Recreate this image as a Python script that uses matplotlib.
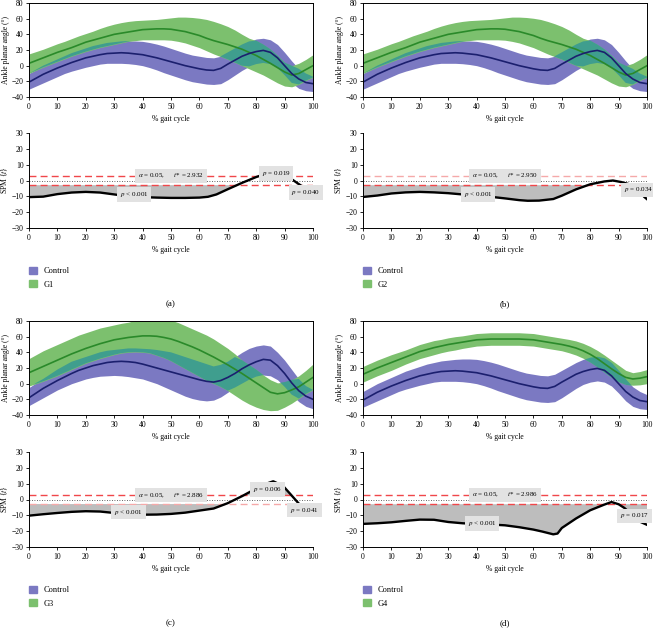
import numpy as np
import matplotlib.pyplot as plt
from matplotlib.patches import Patch

plt.rcParams['font.family'] = ['Liberation Serif', 'DejaVu Serif']
plt.rcParams['mathtext.fontset'] = 'stix'
plt.rcParams['font.size'] = 5.5

# % gait cycle grid for the angle curves (every 2.5 %)
pct = [0, 2.5, 5, 7.5, 10, 12.5, 15, 17.5, 20, 22.5, 25, 27.5, 30, 32.5, 35, 37.5, 40, 42.5, 45, 47.5,
       50, 52.5, 55, 57.5, 60, 62.5, 65, 67.5, 70, 72.5, 75, 77.5, 80, 82.5, 85, 87.5, 90, 92.5, 95, 97.5, 100]

# control group, panels a, b, d (mean and band edges)
ctrl_mean = [-21, -16, -11, -7, -3, 0.5, 4, 7, 10, 12, 14, 15.5, 16, 16.5, 16, 15, 14, 12, 10, 7.5,
             5, 2.5, 0, -2, -4, -5.5, -6, -3.5, 2, 7, 12, 15.5, 18, 19.5, 17, 10, 0, -10, -17, -21.5, -23]
ctrl_hi = [-10, -5, 0, 4, 8, 12, 16, 19, 22, 25, 27, 29, 30, 31, 31.5, 31.5, 31, 29.5, 27.5, 25,
           22, 19, 16, 13.5, 12, 10.5, 10, 12, 17, 22, 27, 31, 34, 35, 33, 27, 17, 6, -4, -10, -14]
ctrl_lo = [-30, -26, -22, -18, -14, -10, -7, -4.5, -2, 0, 2, 3, 3, 3, 2.5, 1.5, 0, -2.5, -5.5, -9,
           -12, -15, -18, -20.5, -22, -23.5, -24, -23, -18, -12, -6, -1, 2, 3.5, 2, -3, -12, -22, -29, -32, -33]

# G1 (panel b's G2 curves are the same as G1 in the figure)
g1_mean = [3, 6.5, 10, 13.5, 17, 20, 23, 26.5, 30, 32.5, 35, 37.5, 40, 41.5, 43, 44.5, 46, 46.5, 47, 47,
           46.5, 45, 43.5, 41, 38.5, 35, 32, 29.5, 27, 24, 21, 17, 13, 8, 3, -2.5, -8, -12, -10, -5, 0]
g1_hi = [15, 18, 21, 24.5, 28, 31, 34.5, 38, 41, 44, 47.5, 50.5, 53, 55, 56.5, 57.5, 58, 58.5, 59, 60,
         61, 62, 62, 61.5, 60.5, 59, 56.5, 53.5, 50, 45.5, 40, 35, 32, 27, 21, 13, 4, 0, 3, 8, 14]
g1_lo = [-10, -6, -2, 1.5, 5, 8.5, 12, 15, 18, 20.5, 23, 25, 27, 29, 31, 32, 33, 33, 33, 33,
         32.5, 31, 29, 26, 23, 19, 15, 11.5, 8, 4, 0, -4, -8, -12, -17, -22, -26, -27, -24, -19, -15]

# control group, panel c
ctrl3_mean = [-18, -12, -6, -1, 4, 8.5, 13, 17, 20, 23, 25, 27, 28, 28.5, 28, 27, 25, 22.5, 20, 17.5,
              15, 12.5, 10, 7.5, 5, 3, 2, 4, 8, 13, 19, 24, 28, 31, 30, 23, 13, 1, -9, -16, -20]
ctrl3_hi = [-5, 1, 6, 12, 18, 23, 28, 31, 34, 37, 40, 42, 43, 44, 45, 45, 44.5, 44, 43, 41.5,
            40, 37, 34, 31, 28, 25, 22, 24, 28, 34, 40, 45, 48, 49.5, 48, 40, 30, 18, 6, -3, -8]
ctrl3_lo = [-28, -23, -18, -13, -8, -4, 0, 3, 6, 8, 9.5, 10, 10.5, 10, 9, 7.5, 6, 3, 0, -4,
            -8, -12, -16, -19, -21, -22, -21, -17, -11, -5, 0, 5, 9, 11, 10, 5, -4, -14, -23, -29, -32]

g3_mean = [14, 18, 22, 26, 30, 34, 38, 41.5, 45, 48, 51, 53.5, 56, 57.5, 59, 60, 61, 61, 60.5, 59,
           57, 54, 50.5, 47, 43, 38.5, 34, 29, 24, 18.5, 13, 7, 1, -5, -11, -13, -11.5, -8, -4, 2, 8]
g3_hi = [32, 37, 42, 46, 50, 54, 58, 62, 65, 68, 71, 73, 75, 77, 78.5, 81, 83, 84, 84, 83,
         81, 78, 74, 70, 66, 62, 57, 51, 45, 38, 30, 24, 18, 11, 5, 1, 2, 5, 10, 17, 25]
g3_lo = [-3, 0, 3, 6.5, 10, 14, 18, 22, 26, 29, 32, 34.5, 37, 39, 40, 40.5, 40, 39, 36, 33,
         29, 24, 19, 14, 9, 4, 0, -4, -9, -15, -21, -26, -30, -33, -34.5, -34, -30, -25, -19, -13, -8]

g4_mean = [12, 16, 20, 23.5, 27, 30.5, 34, 37.5, 41, 43.5, 46, 48, 50, 51.5, 53, 54.5, 56, 56.5, 57, 57,
           57, 57, 57, 56.5, 56, 54.5, 53, 51.5, 50, 48, 45.5, 42, 37.5, 32, 25.5, 19, 13, 8, 6, 7, 9]
g4_sd = [10, 10, 10, 10, 10, 9.5, 9, 9, 9, 9, 9, 8.5, 8.5, 8.5, 8, 8, 8, 8, 8, 8,
         8, 8, 8, 8, 8, 8, 8, 8, 8, 8.5, 9, 9.5, 10, 10.5, 11, 11, 10.5, 9, 8, 8.5, 9]

# SPM{t} curves
spm1_x = [0, 5, 10, 15, 20, 25, 30, 35, 40, 45, 50, 55, 60, 63, 66, 70, 75, 80, 83, 86, 90, 93, 96, 100]
spm1_t = [-10.5, -10.2, -8.6, -7.6, -7.2, -7.6, -8.8, -10, -10.5, -10.8, -11, -11, -10.8, -10.3, -8.8,
          -5.5, -1.5, 2.2, 4, 4.5, 3.5, 0.2, -3.5, -7]
spm2_x = [0, 5, 10, 15, 20, 25, 30, 35, 40, 45, 50, 55, 58, 62, 67, 70, 75, 80, 85, 88, 91, 94, 97, 99, 100]
spm2_t = [-10.4, -9.5, -8.2, -7.5, -7.2, -7.5, -8, -8.8, -9.3, -10.3, -11.3, -12.4, -12.8, -12.7, -11.7,
          -9.6, -5.6, -2.4, -0.6, 0, -1, -2.5, -6.5, -10.3, -11.8]
spm3_x = [0, 5, 10, 15, 20, 25, 30, 35, 40, 45, 50, 55, 60, 65, 70, 75, 78, 82, 86, 89.5, 92, 95, 100]
spm3_t = [-10.2, -9.3, -8.5, -7.8, -7.4, -7.6, -8.5, -9.3, -9.6, -9.5, -9.1, -8.3, -7, -5.7, -2.3, 2.1,
          5, 9, 11.5, 8.5, 3.5, -2.6, -8]
spm4_x = [0, 5, 10, 15, 20, 25, 30, 35, 40, 45, 50, 55, 60, 63, 65, 67, 68.5, 70, 75, 80, 85, 87.5, 90,
          92, 95, 97.5, 100]
spm4_t = [-15.4, -15, -14.4, -13.5, -12.7, -12.8, -14.2, -15, -15.5, -15.8, -16.3, -17.5, -19, -20.2,
          -21.1, -22, -21.5, -18, -12, -6.8, -3.2, -1.6, -3, -5.3, -10, -14, -16]

thresholds = [2.932, 2.950, 2.886, 2.986]
group_names = ['G1', 'G2', 'G3', 'G4']
panel_tags = ['(a)', '(b)', '(c)', '(d)']

# (x, y, text) of the grey p-value boxes
p_labels = [
    [(37, -9, '$p$ < 0.001'), (87, 4.5, '$p$ = 0.019'), (97.5, -7.5, '$p$ = 0.040')],
    [(40.5, -9, '$p$ < 0.001'), (97, -6, '$p$ = 0.034')],
    [(35, -8, '$p$ < 0.001'), (84, 6.4, '$p$ = 0.006'), (97, -6.7, '$p$ = 0.041')],
    [(42, -15.3, '$p$ < 0.001'), (95.5, -10.4, '$p$ = 0.017')],
]

blue_band = '#7b79c2'
green_band = '#7cc06e'
overlap = '#3f9e8e'
blue_line = '#1b1f6e'
green_line = '#2a8a2a'
red = '#f0474a'
pale_red = '#f5a9a9'
# colour of the upper / lower threshold line in each panel
thr_colors = [(red, red), (pale_red, red), (red, pale_red), (red, red)]

x = np.array(pct)
g4m, g4s = np.array(g4_mean), np.array(g4_sd)
ctrl_sets = [(ctrl_mean, ctrl_lo, ctrl_hi), (ctrl_mean, ctrl_lo, ctrl_hi),
             (ctrl3_mean, ctrl3_lo, ctrl3_hi), (ctrl_mean, ctrl_lo, ctrl_hi)]
grp_sets = [(g1_mean, g1_lo, g1_hi), (g1_mean, g1_lo, g1_hi),
            (g3_mean, g3_lo, g3_hi), (g4_mean, g4m - g4s, g4m + g4s)]
spm_sets = [(spm1_x, spm1_t), (spm2_x, spm2_t), (spm3_x, spm3_t), (spm4_x, spm4_t)]

fig = plt.figure(figsize=(6.53, 6.29), dpi=100)

W, H = 653, 629
def axes_px(left, top, right, bottom):
    return fig.add_axes([left / W, 1 - bottom / H, (right - left) / W, (bottom - top) / H])

lefts = [29, 363, 29, 363]
rights = [313, 647, 313, 647]
tops_angle = [3, 3, 321, 321]
tops_spm = [133, 133, 452, 452]

box = dict(boxstyle='square,pad=0.4', facecolor='#e2e2e2', edgecolor='none')

for i in range(4):
    L, R = lefts[i], rights[i]

    # joint angle panel
    ax = axes_px(L, tops_angle[i], R, tops_angle[i] + 94)
    cm, c_lo, c_hi = [np.array(a, dtype=float) for a in ctrl_sets[i]]
    gm, g_lo, g_hi = [np.array(a, dtype=float) for a in grp_sets[i]]
    ax.fill_between(x, c_lo, c_hi, color=blue_band, lw=0)
    ax.fill_between(x, g_lo, g_hi, color=green_band, lw=0)
    lo = np.maximum(c_lo, g_lo)
    hi = np.minimum(c_hi, g_hi)
    ax.fill_between(x, lo, hi, where=hi > lo, interpolate=True, color=overlap, lw=0)
    ax.plot(x, gm, color=green_line, lw=1.2)
    ax.plot(x, cm, color=blue_line, lw=1.2)
    ax.set_xlim(0, 100)
    ax.set_ylim(-40, 80)
    ax.set_xticks(range(0, 101, 10))
    ax.set_yticks(range(-40, 81, 20))
    ax.set_xlabel('% gait cycle', labelpad=3)
    ax.set_ylabel('Ankle planar angle (°)', labelpad=1)
    ax.tick_params(length=2.5, width=0.6, pad=1.5, labelsize=5.5)
    for s in ax.spines.values():
        s.set_linewidth(0.7)

    # SPM panel
    ax2 = axes_px(L, tops_spm[i], R, tops_spm[i] + 95)
    sx, st = np.array(spm_sets[i][0], dtype=float), np.array(spm_sets[i][1])
    thr = thresholds[i]
    ax2.fill_between(sx, st, -thr, where=st < -thr, interpolate=True, color='#bdbdbd', lw=0)
    ax2.fill_between(sx, st, thr, where=st > thr, interpolate=True, color='#bdbdbd', lw=0)
    ax2.axhline(thr, color=thr_colors[i][0], ls=(0, (5, 3)), lw=1.0)
    ax2.axhline(-thr, color=thr_colors[i][1], ls=(0, (5, 3)), lw=1.0)
    ax2.axhline(0, color='#333333', ls=(0, (1, 2)), lw=0.6)
    ax2.plot(sx, st, color='black', lw=1.7)
    ax2.text(50, thr - 0.3, r'$\alpha$ = 0.05,      $t$* = %.3f' % thr, ha='center', va='center',
             fontsize=5, bbox=box)
    for (px, py, txt) in p_labels[i]:
        ax2.text(px, py, txt, ha='center', va='center', fontsize=5, bbox=box, clip_on=False)
    ax2.set_xlim(0, 100)
    ax2.set_ylim(-30, 30)
    ax2.set_xticks(range(0, 101, 10))
    ax2.set_yticks(range(-30, 31, 10))
    ax2.spines['top'].set_visible(False)
    ax2.spines['right'].set_visible(False)
    ax2.set_xlabel('% gait cycle', labelpad=3)
    ax2.set_ylabel('SPM {$t$}', labelpad=1)
    ax2.tick_params(length=2.5, width=0.6, pad=1.5, labelsize=5.5)
    for s in ax2.spines.values():
        s.set_linewidth(0.7)

    handles = [Patch(color=blue_band, label='Control'), Patch(color=green_band, label=group_names[i])]
    ax2.legend(handles=handles, loc='upper left', bbox_to_anchor=(-0.025, -0.33), frameon=False,
               handlelength=0.9, handleheight=0.9, handletextpad=0.8, labelspacing=0.6, fontsize=6)

    fig.text((L + R) / 2 / W, 1 - (tops_spm[i] + 171) / H, panel_tags[i], ha='center', va='center',
             fontsize=6.5)

fig.savefig('out.png', dpi=100)
